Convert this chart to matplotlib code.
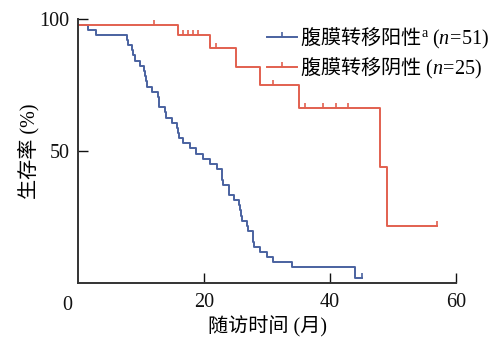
import numpy as np
import matplotlib
matplotlib.use("Agg")
import matplotlib.pyplot as plt
from matplotlib.lines import Line2D

plt.rcParams['font.family'] = ['Liberation Serif', 'Noto Sans CJK SC']
plt.rcParams['mathtext.fontset'] = 'custom'
plt.rcParams['mathtext.rm'] = 'Liberation Serif'
plt.rcParams['mathtext.it'] = 'Liberation Serif:italic'

# peritoneal metastasis positive (n=51): step times (months) and survival (%)
pos_time = [0, 1.6, 2.8, 7.8, 8.0, 8.6, 8.8, 9.0, 9.8, 10.5, 10.6, 10.8, 10.9,
            11.7, 12.7, 12.8, 12.9, 13.8, 13.9, 14.9, 15.7, 15.8, 16.0, 16.7,
            17.8, 18.8, 19.9, 21.0, 22.0, 22.8, 22.9, 23.0, 23.9, 24.0, 24.7,
            25.6, 25.7, 25.8, 26.0, 26.8, 26.9, 27.7, 27.8, 27.9, 28.9, 30.0,
            31.0, 33.9, 44.0, 45.0]
pos_surv = [98.0, 96.1, 94.1, 92.2, 90.2, 88.2, 86.3, 84.3, 82.4, 80.4, 78.4,
            76.5, 74.5, 72.5, 70.6, 68.6, 66.7, 64.7, 62.7, 60.8, 58.8, 56.9,
            54.9, 52.9, 51.0, 49.0, 47.1, 45.1, 43.1, 41.2, 39.2, 37.3, 35.3,
            33.3, 31.4, 29.4, 27.5, 25.5, 23.5, 21.6, 19.6, 17.6, 15.7, 13.7,
            11.8, 9.8, 7.8, 5.9, 2.0, 2.0]
pos_cens = [45.0]

# peritoneal metastasis negative (n=25)
neg_time = [0, 15.8, 20.9, 25.0, 28.9, 35.1, 47.9, 49.0, 57.0]
neg_surv = [97.8, 94.2, 89.0, 81.9, 75.1, 66.5, 43.9, 21.4, 21.4]
neg_cens = [12.0, 16.6, 17.4, 18.2, 19.0, 21.0, 21.9, 28.9, 31.0, 36.0,
            38.9, 41.0, 42.9, 57.0]

labels = ['腹膜转移阳性$^{\\mathrm{a}}$ $(n\\!=\\!51)$',
          '腹膜转移阴性 $(n\\!=\\!25)$']
colors = ['#4a62a0', '#e2604f']

xticks = [20, 40, 60]
yticks = [50, 100]


def surv_at(times, surv, t):
    idx = np.searchsorted(times, t, side='right') - 1
    return np.array(surv)[idx]


fig = plt.figure(figsize=(5.03, 3.40), dpi=100)
ax = fig.add_axes([0.155, 0.168, 0.752, 0.775])

series = [(pos_time, pos_surv, pos_cens), (neg_time, neg_surv, neg_cens)]
handles = []
for (t, s, c), col, lab in zip(series, colors, labels):
    ax.plot(t, s, drawstyle='steps-post', color=col, lw=1.4)
    ax.plot(c, surv_at(t, s, c), ls='none', marker=2, ms=3.5, mew=1.2, color=col)
    handles.append(Line2D([0], [0], color=col, lw=1.4, marker=2, ms=3.5, mew=1.2))

ax.set_xlim(0, 60)
ax.set_ylim(0, 100)
ax.set_xticks(xticks)
ax.set_yticks(yticks)
ax.tick_params(direction='in', length=7, width=1, labelsize=14.5, colors='#111111')
ax.tick_params(axis='x', pad=7)
ax.tick_params(axis='y', pad=6)
for side in ['top', 'right']:
    ax.spines[side].set_visible(False)
for side in ['left', 'bottom']:
    ax.spines[side].set_linewidth(1.4)
    ax.spines[side].set_color('#333333')

ax.annotate('0', xy=(0, 0), xytext=(-8, -16), textcoords='offset points',
            ha='center', va='center', fontsize=14.5, color='#111111')

ax.set_xlabel('随访时间 (月)', fontsize=14.5, labelpad=3)
ax.set_ylabel('生存率 (%)', fontsize=14.5, labelpad=0)

fig.legend(handles, labels, loc='upper left', bbox_to_anchor=(0.53, 0.925),
           frameon=False, handlelength=1.5, handletextpad=0.15,
           labelspacing=0.25, borderpad=0, borderaxespad=0,
           prop={'family': 'Noto Sans CJK SC', 'size': 14.5})

fig.savefig('out.png', dpi=100)
